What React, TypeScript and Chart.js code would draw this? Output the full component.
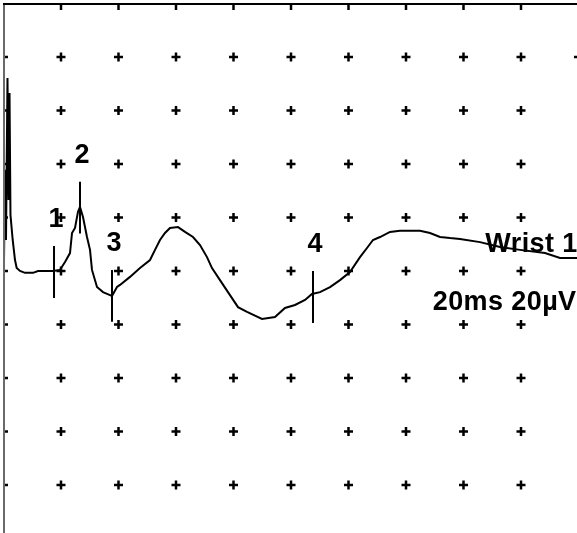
import React, { useEffect, useRef } from "react";
import { Chart, registerables } from "chart.js";

Chart.register(...registerables);

// Sweep: 20 ms / div, 20 µV / div
const traceTimesMs = [
  0.17, 0.52, 0.87, 1.39, 1.74, 2.09, 2.43, 3.2, 4.0, 4.59, 5.74, 7.48, 10.26, 12.0, 17.2,
  19.65, 21.39, 23.13, 23.83, 24.87, 25.91, 26.61, 27.65, 29.04, 30.09, 30.78, 32.52, 34.61,
  37.04, 37.74, 39.48, 40.52, 44.0, 47.48, 50.96, 52.7, 54.43, 56.17, 57.91, 60.7, 63.13,
  65.91, 68.35, 70.78, 72.52, 75.3, 78.78, 81.57, 84.7, 89.91, 94.43, 97.91, 101.39, 104.87,
  107.3, 110.09, 113.57, 117.04, 120.52, 124.0, 126.43, 128.52, 130.96, 134.43, 137.91,
  144.87, 148.35, 151.83, 155.3, 158.78, 165.74, 172.7, 179.65, 188.35, 193.57, 200,
];
const traceAmpsUv = [
  3.0, 37.8, 11.6, 72.1, 26.5, 66.5, 20.9, 11.6, 4.1, 1.1, 0, -0.7, -0.7, 0, 0,
  0.4, 3.4, 6.7, 14.2, 16.1, 22.1, 23.9, 20.2, 12.7, 7.9, 0.4, -6.0, -7.9,
  -9.0, -9.3, -6.0, -5.2, -2.2, 1.1, 4.1, 7.9, 11.6, 14.2, 16.1, 16.4, 14.6,
  12.7, 9.7, 5.2, 1.1, -3.4, -9.0, -13.5, -15.3, -17.9, -17.2, -13.8, -12.7, -10.8,
  -8.6, -7.9, -6.0, -3.4, -0.4, 5.2, 8.6, 11.6, 12.7, 14.6, 15.0,
  15.0, 14.2, 12.7, 12.3, 12.0, 10.8, 9.0, 7.9, 6.7, 4.9, 4.9,
];

const markerLabels = ["1", "2", "3", "4"];
const markerTimesMs = [17.57, 26.61, 37.74, 107.65];
const markerAmpsUv = [-0.4, 23.7, -9.3, -9.7];
const MARKER_HALF_UV = 9.7;

const gridTimesMs = [20, 40, 60, 80, 100, 120, 140, 160, 180, 200];
const gridAmpsUv = [80, 60, 40, 20, 0, -20, -40, -60, -80, -100];

const textLabels = ["Wrist 1", "20ms 20µV"];
const textTimesMs = [167.6, 149.3];
const textAmpsUv = [7.1, -14.6];

const X_MIN = 0.174;
const X_MAX = 199.478;
const Y_MIN = -97.94;
const Y_MAX = 99.81;

const FONT = "bold 27px 'Liberation Sans', Arial, sans-serif";

export default function App() {
  const ref = useRef<HTMLCanvasElement | null>(null);

  useEffect(() => {
    document.body.style.margin = "0";
    const canvas = ref.current;
    if (!canvas) return;

    const gridPoints: { x: number; y: number }[] = [];
    gridTimesMs.forEach((t) => gridAmpsUv.forEach((a) => gridPoints.push({ x: t, y: a })));
    const topTicks = gridTimesMs.map((t) => ({ x: t, y: Y_MAX }));
    const leftTicks = gridAmpsUv.map((a) => ({ x: X_MIN, y: a }));

    const trace = traceTimesMs.map((t, i) => ({ x: t, y: traceAmpsUv[i] }));

    const markerSets = markerTimesMs.map((t, i) => ({
      type: "line" as const,
      data: [
        { x: t, y: markerAmpsUv[i] + MARKER_HALF_UV },
        { x: t, y: markerAmpsUv[i] - MARKER_HALF_UV },
      ],
      borderColor: "#000",
      borderWidth: 2,
      pointRadius: 0,
      tension: 0,
      clip: 0,
    }));

    const framePlugin = {
      id: "frame",
      afterDraw(chart: any) {
        const ctx = chart.ctx;
        const xs = chart.scales.x;
        const ys = chart.scales.y;
        ctx.save();
        ctx.fillStyle = "#000";
        ctx.font = FONT;
        ctx.textBaseline = "alphabetic";
        ctx.textAlign = "center";
        markerLabels.forEach((lab, i) => {
          const px = xs.getPixelForValue(markerTimesMs[i]);
          const py = ys.getPixelForValue(markerAmpsUv[i] + MARKER_HALF_UV);
          ctx.fillText(lab, px + 2, py - 19);
        });
        ctx.textAlign = "left";
        try {
          (ctx as any).letterSpacing = "0.4px";
        } catch (e) {}
        textLabels.forEach((lab, i) => {
          ctx.fillText(lab, xs.getPixelForValue(textTimesMs[i]), ys.getPixelForValue(textAmpsUv[i]));
        });
        // frame
        ctx.fillStyle = "#6a6a6a";
        ctx.fillRect(3, 3, 2, chart.height);
        ctx.fillStyle = "#000";
        ctx.fillRect(3, 3, chart.width, 2);
        ctx.restore();
      },
    };

    const chart = new Chart(canvas, {
      type: "line",
      data: {
        datasets: [
          {
            type: "scatter" as any,
            data: gridPoints,
            pointStyle: "cross",
            pointRadius: 4.5,
            pointBorderWidth: 2.5,
            pointBorderColor: "#000",
            pointBackgroundColor: "#000",
            showLine: false,
            clip: 0,
          } as any,
          {
            type: "scatter" as any,
            data: topTicks,
            pointStyle: "line",
            rotation: 90,
            pointRadius: 6,
            pointBorderWidth: 2.5,
            pointBorderColor: "#000",
            showLine: false,
            clip: 0,
          } as any,
          {
            type: "scatter" as any,
            data: leftTicks,
            pointStyle: "line",
            rotation: 0,
            pointRadius: 4,
            pointBorderWidth: 2.5,
            pointBorderColor: "#000",
            showLine: false,
            clip: 0,
          } as any,
          {
            type: "line",
            data: trace,
            borderColor: "#000",
            borderWidth: 2,
            pointRadius: 0,
            tension: 0,
            clip: 0,
          },
          ...markerSets,
        ],
      },
      options: {
        animation: false,
        responsive: false,
        devicePixelRatio: 1,
        layout: { autoPadding: false, padding: { left: 4, top: 4, right: 0, bottom: 0 } },
        plugins: { legend: { display: false }, tooltip: { enabled: false }, title: { display: false } },
        scales: {
          x: { type: "linear", min: X_MIN, max: X_MAX, display: false },
          y: { type: "linear", min: Y_MIN, max: Y_MAX, display: false },
        },
      },
      plugins: [framePlugin],
    });
    return () => chart.destroy();
  }, []);

  return (
    <div style={{ width: 577, height: 533, background: "#fff" }}>
      <canvas ref={ref} width={577} height={533} style={{ display: "block" }} />
    </div>
  );
}
